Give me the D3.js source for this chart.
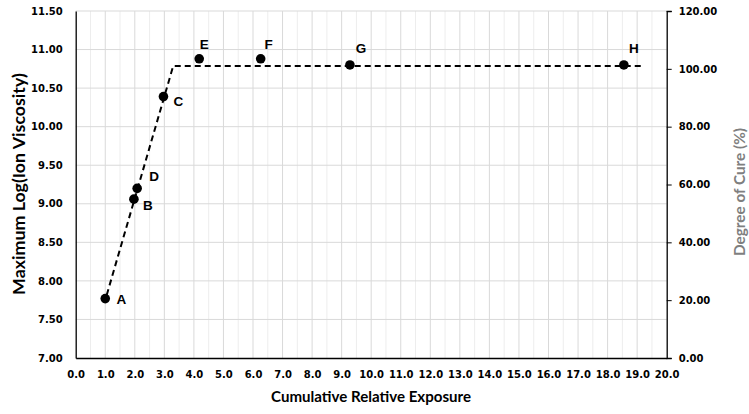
<!DOCTYPE html>
<html><head><meta charset="utf-8">
<script src="https://cdn.jsdelivr.net/npm/d3@7"></script>
<style>body{margin:0;background:#fff}svg{display:block}</style>
</head><body>
<script>
const pointLabels = ["A","B","C","D","E","F","G","H"];
const exposure = [1.0, 1.97, 2.97, 2.08, 4.18, 6.26, 9.28, 18.55];
const logViscosity = [7.77, 9.06, 10.39, 9.2, 10.88, 10.88, 10.80, 10.80];
const cureX = [1.05, 3.30, 19.2];
const cureY = [21.8, 101.0, 101.0];
const xTicks = d3.range(0, 20.01, 1);
const yLeftTicks = d3.range(7, 11.51, 0.5);
const yRightTicks = d3.range(0, 120.1, 20);
const labelOffsets = {A:[16,5],B:[14,11],C:[15,9],D:[17,-7],E:[5,-10],F:[8,-10],G:[11,-12],H:[10,-12]};

const W=749,H=414;
const m={l:75.7,r:82.3,t:11,b:56};
const svg=d3.select("body").append("svg").attr("width",W).attr("height",H);
const x=d3.scaleLinear().domain([0,20]).range([m.l,W-m.r]);
const y=d3.scaleLinear().domain([7,11.5]).range([H-m.b,m.t]);
const y2=d3.scaleLinear().domain([0,120]).range([H-m.b,m.t]);
const tickFont="'DejaVu Sans', Verdana, sans-serif";

// minor vertical grid
svg.append("g").selectAll("line").data(d3.range(0.5,20,1)).join("line")
 .attr("x1",d=>x(d)).attr("x2",d=>x(d)).attr("y1",y(7)).attr("y2",y(11.5))
 .attr("stroke","#ededed").attr("stroke-width",1);
// major vertical grid
svg.append("g").selectAll("line").data(d3.range(1,20,1)).join("line")
 .attr("x1",d=>x(d)).attr("x2",d=>x(d)).attr("y1",y(7)).attr("y2",y(11.5))
 .attr("stroke","#d9d9d9").attr("stroke-width",1);
// horizontal grid
svg.append("g").selectAll("line").data(yLeftTicks.slice(1)).join("line")
 .attr("x1",x(0)).attr("x2",x(20)).attr("y1",d=>y(d)).attr("y2",d=>y(d))
 .attr("stroke","#d9d9d9").attr("stroke-width",1);

// axes
const gx=svg.append("g").attr("transform",`translate(0,${y(7)})`)
 .call(d3.axisBottom(x).tickValues(xTicks).tickFormat(d3.format(".1f")).tickSize(0).tickPadding(13));
const gy=svg.append("g").attr("transform",`translate(${x(0)},0)`)
 .call(d3.axisLeft(y).tickValues(yLeftTicks).tickFormat(d3.format(".2f")).tickSize(0).tickPadding(13));
const gy2=svg.append("g").attr("transform",`translate(${x(20)},0)`)
 .call(d3.axisRight(y2).tickValues(yRightTicks).tickFormat(d3.format(".2f")).tickSize(5).tickPadding(7));
[gx,gy,gy2].forEach(g=>{
  g.select(".domain").attr("stroke","#000").attr("stroke-width",1.3);
  g.selectAll(".tick line").attr("stroke","#000");
  g.selectAll("text").attr("font-family",tickFont).attr("font-weight","bold").attr("font-size","10px").attr("fill","#000");
});

// dashed cure line
const lineData=cureX.map((d,i)=>[d,cureY[i]]);
svg.append("path").datum(lineData)
 .attr("d",d3.line().x(d=>x(d[0])).y(d=>y2(d[1])))
 .attr("fill","none").attr("stroke","#000").attr("stroke-width",2).attr("stroke-dasharray","6,4");

// points
const pts=pointLabels.map((l,i)=>({l,x:exposure[i],y:logViscosity[i]}));
svg.append("g").selectAll("circle").data(pts).join("circle")
 .attr("cx",d=>x(d.x)).attr("cy",d=>y(d.y)).attr("r",4.8).attr("fill","#000");
svg.append("g").selectAll("text").data(pts).join("text")
 .attr("x",d=>x(d.x)+labelOffsets[d.l][0]).attr("y",d=>y(d.y)+labelOffsets[d.l][1])
 .attr("text-anchor","middle").attr("font-family","'Liberation Sans', Arial, sans-serif")
 .attr("font-weight","bold").attr("font-size","13.5px").text(d=>d.l);

// titles
const titleFont="Lato, 'Open Sans', sans-serif";
function fit(sel,target){
  const w=sel.node().getComputedTextLength();
  sel.attr("font-size",(14.5*target/w).toFixed(2)+"px");
}
const t1=svg.append("text").attr("x",371).attr("y",402).attr("text-anchor","middle")
 .attr("font-family",titleFont).attr("font-weight","bold").attr("font-size","14.5px").text("Cumulative Relative Exposure");
fit(t1,200);
const t2=svg.append("text").attr("transform",`translate(25,184) rotate(-90)`).attr("text-anchor","middle")
 .attr("font-family",titleFont).attr("font-weight","bold").attr("font-size","14.5px").text("Maximum Log(Ion Viscosity)");
fit(t2,222);
const t3=svg.append("text").attr("transform",`translate(745,192) rotate(-90)`).attr("text-anchor","middle")
 .attr("font-family",titleFont).attr("font-weight","bold").attr("font-size","14.5px").attr("fill","#7f7f7f").text("Degree of Cure (%)");
fit(t3,128);
</script>
</body></html>
